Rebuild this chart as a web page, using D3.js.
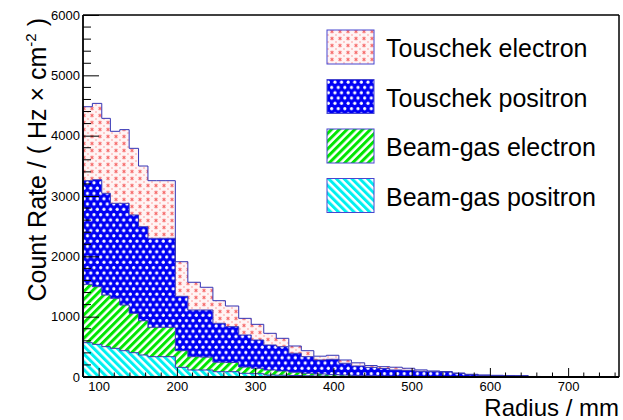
<!DOCTYPE html>
<html><head><meta charset="utf-8">
<script src="https://cdn.jsdelivr.net/npm/d3@7"></script>
<style>
body{margin:0;background:#fff;}
svg{display:block;}
text{font-family:"Liberation Sans", Arial, Helvetica, sans-serif;fill:#000;}
</style>
</head><body>
<svg id="chart" width="623" height="420"></svg>
<script>
// ---- data ----
const binEdges = [80, 92, 104, 115, 127, 139, 151, 163, 174, 186, 198, 214, 230, 246, 262, 279, 295, 311, 327, 343, 359, 375, 391, 407, 423, 440, 456, 472, 488, 504, 520, 536, 552, 568, 585, 601, 617, 633, 649, 665, 681, 697, 713, 729, 745, 762];
const seriesNames = ["Touschek electron", "Touschek positron", "Beam-gas electron", "Beam-gas positron"];
const touschekElectron = [1226, 1265, 1242, 1193, 1221, 1105, 1006, 955, 955, 955,
  574, 460, 377, 375, 343, 276, 260, 194, 139, 121, 99, 63, 67, 55, 53, 30, 31, 46, 35, 23,
  12, 8, 7, 6, 5, 4, 4, 3, 2, 2, 1, 1, 0, 0, 0];
const touschekPositron = [1718, 1773, 1686, 1575, 1686, 1629, 1558, 1475, 1475, 1475,
  901, 773, 780, 645, 594, 531, 468, 414, 402, 313, 275, 232, 253, 195, 156, 140, 124, 104, 100, 87,
  82, 78, 55, 35, 25, 22, 20, 18, 6, 5, 4, 3, 2, 2, 1];
const beamGasElectron = [967, 956, 856, 829, 757, 653, 568, 487, 487, 487,
  276, 221, 214, 157, 152, 104, 90, 83, 70, 55, 42, 35, 28, 23, 19, 15, 12, 9, 8, 6,
  5, 4, 3, 3, 2, 2, 1, 1, 1, 1, 0, 0, 0, 0, 0];
const beamGasPositron = [569, 541, 503, 475, 436, 403, 365, 337, 337, 337,
  160, 116, 116, 88, 88, 61, 55, 33, 30, 25, 20, 15, 12, 9, 7, 5, 4, 3, 2, 2,
  1, 1, 1, 1, 1, 0, 0, 0, 0, 0, 0, 0, 0, 0, 0];
const xTicks = [100, 200, 300, 400, 500, 600, 700];
const yTicks = [0, 1000, 2000, 3000, 4000, 5000, 6000];
const xTitle = "Radius / mm";

// ---- layout ----
const svg = d3.select("#chart");
const L = 83, R = 619, T = 15, B = 377;
const x = d3.scaleLinear().domain([80, 765]).range([L, R]);
const y = d3.scaleLinear().domain([0, 6000]).range([B, T]);

const defs = svg.append("defs");
// red asterisk pattern
const pRed = defs.append("pattern").attr("id", "pRed").attr("patternUnits", "userSpaceOnUse")
  .attr("width", 8).attr("height", 7);
pRed.append("rect").attr("width", 8).attr("height", 7).attr("fill", "#fff4f4");
pRed.append("circle").attr("cx", 4).attr("cy", 3.5).attr("r", 2.2).attr("fill", "#ffd4d4");
pRed.append("path").attr("d", "M2.7,2.2L5.3,4.8M2.7,4.8L5.3,2.2M4,1.9V5.1")
  .attr("stroke", "#f24848").attr("stroke-width", 0.7);
[[0,0],[8,0],[0,7],[8,7]].forEach(p => pRed.append("circle").attr("cx", p[0]).attr("cy", p[1]).attr("r", 1.0).attr("fill", "#ffbcbc"));
// blue dotted pattern
const pBlue = defs.append("pattern").attr("id", "pBlue").attr("patternUnits", "userSpaceOnUse")
  .attr("width", 6.6).attr("height", 10.6);
pBlue.append("rect").attr("width", 6.6).attr("height", 10.6).attr("fill", "#0000f5");
[[1.65, 2.65], [4.95, 7.95]].forEach(p => {
  pBlue.append("circle").attr("cx", p[0]).attr("cy", p[1]).attr("r", 1.6).attr("fill", "#fff");
});
// green / hatch
const pGreen = defs.append("pattern").attr("id", "pGreen").attr("patternUnits", "userSpaceOnUse")
  .attr("width", 5.5).attr("height", 5.5).attr("patternTransform", "rotate(45)");
pGreen.append("rect").attr("width", 5.5).attr("height", 5.5).attr("fill", "#fff");
pGreen.append("rect").attr("width", 3).attr("height", 5.5).attr("fill", "#00e600");
// cyan \ hatch
const pCyan = defs.append("pattern").attr("id", "pCyan").attr("patternUnits", "userSpaceOnUse")
  .attr("width", 5.5).attr("height", 5.5).attr("patternTransform", "rotate(-45)");
pCyan.append("rect").attr("width", 5.5).attr("height", 5.5).attr("fill", "#fff");
pCyan.append("rect").attr("width", 3).attr("height", 5.5).attr("fill", "#00f0f0");

const fills = {"Touschek electron": "url(#pRed)", "Touschek positron": "url(#pBlue)",
  "Beam-gas electron": "url(#pGreen)", "Beam-gas positron": "url(#pCyan)"};
const outline = "#3535b5";

// ---- stack ----
const rows = binEdges.slice(0, -1).map((e, i) => ({
  x0: e, x1: binEdges[i + 1],
  "Beam-gas positron": beamGasPositron[i],
  "Beam-gas electron": beamGasElectron[i],
  "Touschek positron": touschekPositron[i],
  "Touschek electron": touschekElectron[i]
}));
const keys = ["Beam-gas positron", "Beam-gas electron", "Touschek positron", "Touschek electron"];
const stacked = d3.stack().keys(keys)(rows);

const area = d3.area().x(d => x(d.x)).y0(d => y(d.lo)).y1(d => y(d.hi));
const line = d3.line().x(d => x(d.x)).y(d => y(d.v));

const gBars = svg.append("g");
stacked.forEach(layer => {
  const pts = [];
  layer.forEach((s, i) => {
    pts.push({x: rows[i].x0, lo: s[0], hi: s[1]});
    pts.push({x: rows[i].x1, lo: s[0], hi: s[1]});
  });
  gBars.append("path").attr("d", area(pts)).attr("fill", fills[layer.key]).attr("stroke", "none");
});
stacked.forEach(layer => {
  const pts = [{x: binEdges[0], v: 0}];
  layer.forEach((s, i) => {
    pts.push({x: rows[i].x0, v: s[1]});
    pts.push({x: rows[i].x1, v: s[1]});
  });
  pts.push({x: binEdges[binEdges.length - 1], v: 0});
  gBars.append("path").attr("d", line(pts)).attr("fill", "none")
    .attr("stroke", outline).attr("stroke-width", 1);
});

// ---- axes ----
const gAx = svg.append("g");
// frame
gAx.append("line").attr("x1", L).attr("x2", R).attr("y1", T).attr("y2", T).attr("stroke", "#000").attr("stroke-width", 1.5);
gAx.append("line").attr("x1", R).attr("x2", R).attr("y1", T).attr("y2", B).attr("stroke", "#000").attr("stroke-width", 1.5);

const yAxis = d3.axisLeft(y).tickValues(yTicks).tickFormat(d3.format("d")).tickSize(-16).tickPadding(4);
const gy = gAx.append("g").attr("transform", `translate(${L},0)`).call(yAxis);
const yMinor = d3.range(0, 6001, 200).filter(v => v % 1000 !== 0);
gy.selectAll(".minor").data(yMinor).enter().append("line").attr("class", "minor")
  .attr("x1", 0).attr("x2", 8).attr("y1", d => y(d)).attr("y2", d => y(d)).attr("stroke", "#000");

const xAxis = d3.axisBottom(x).tickValues(xTicks).tickFormat(d3.format("d")).tickSize(-9).tickPadding(6);
const gx = gAx.append("g").attr("transform", `translate(0,${B})`).call(xAxis);
const xMinor = d3.range(80, 766, 20).filter(v => v % 100 !== 0);
gx.selectAll(".minor").data(xMinor).enter().append("line").attr("class", "minor")
  .attr("y1", 0).attr("y2", -4.5).attr("x1", d => x(d)).attr("x2", d => x(d)).attr("stroke", "#000");

[gx, gy].forEach(g => {
  g.select(".domain").attr("stroke", "#000").attr("stroke-width", 1.8);
  g.selectAll(".tick line").attr("stroke", "#000");
  g.selectAll("text").attr("font-size", 13).attr("font-family", "Liberation Sans, Arial, sans-serif").attr("fill", "#000");
});
gx.selectAll(".tick text").attr("y", 5).attr("dy", "0.71em");
gy.select(".domain").attr("d", `M0,${B}V${T}`);
gx.select(".domain").attr("d", `M${L},0H${R}`);
gy.selectAll(".tick text").attr("x", -3);

// axis titles
svg.append("text").attr("x", R).attr("y", 416).attr("text-anchor", "end")
  .attr("font-size", 24).text(xTitle);
const yt = svg.append("text").attr("transform", "translate(46,18) rotate(-90)")
  .attr("text-anchor", "end").attr("font-size", 25);
yt.append("tspan").text("Count Rate / ( Hz \u00d7 cm");
yt.append("tspan").attr("font-size", 15).attr("dy", -10).text("-2");
yt.append("tspan").attr("dy", 10).text(" )");

// ---- legend ----
const gL = svg.append("g");
seriesNames.forEach((name, i) => {
  const cy = 47 + i * 49.5;
  gL.append("rect").attr("x", 327).attr("y", cy - 17).attr("width", 47).attr("height", 34)
    .attr("fill", fills[name]).attr("stroke", "#4646d0").attr("stroke-width", 1);
  gL.append("text").attr("x", 386).attr("y", cy + 10).attr("font-size", 25).text(name);
});
</script>
</body></html>
